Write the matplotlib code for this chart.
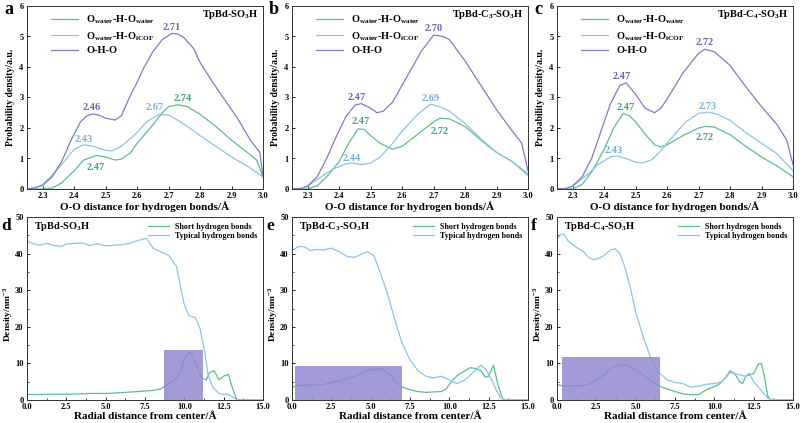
import numpy as np
import matplotlib
matplotlib.use("Agg")
import matplotlib.pyplot as plt
from matplotlib.ticker import AutoMinorLocator

plt.rcParams["font.family"] = ["Liberation Serif", "DejaVu Serif"]
plt.rcParams["font.weight"] = "bold"
plt.rcParams["mathtext.fontset"] = "custom"
plt.rcParams["mathtext.rm"] = "Liberation Serif:bold"
plt.rcParams["mathtext.bf"] = "Liberation Serif:bold"

verde = "#5dbf8c"
azul = "#8cc3ea"
roxo = "#8578c9"
verde_txt = "#3fa874"
azul_txt = "#6fb0e0"
roxo_txt = "#6f62b8"

# ---- painel a ----
a_x_oho = [2.25, 2.28, 2.30, 2.33, 2.36, 2.39, 2.42, 2.44, 2.46, 2.48, 2.50, 2.53, 2.55, 2.58, 2.60, 2.62, 2.65, 2.68, 2.71, 2.73, 2.75, 2.78, 2.80, 2.84, 2.88, 2.92, 2.96, 2.99, 3.00]
a_y_oho = [0.0, 0.05, 0.12, 0.40, 0.90, 1.60, 2.20, 2.40, 2.46, 2.42, 2.32, 2.26, 2.40, 3.10, 3.50, 3.95, 4.50, 4.90, 5.10, 5.08, 4.95, 4.60, 4.15, 3.50, 2.90, 2.30, 1.60, 1.20, 0.40]
a_x_ww = [2.25, 2.30, 2.33, 2.36, 2.40, 2.43, 2.47, 2.50, 2.53, 2.55, 2.58, 2.60, 2.65, 2.68, 2.70, 2.73, 2.76, 2.80, 2.85, 2.90, 2.95, 2.98, 3.00]
a_y_ww = [0.0, 0.0, 0.03, 0.20, 0.60, 0.95, 1.10, 1.05, 0.95, 0.98, 1.20, 1.50, 2.10, 2.50, 2.70, 2.76, 2.70, 2.45, 2.05, 1.60, 1.20, 0.95, 0.40]
a_x_wc = [2.25, 2.28, 2.30, 2.33, 2.36, 2.40, 2.43, 2.46, 2.50, 2.52, 2.55, 2.60, 2.63, 2.67, 2.70, 2.73, 2.76, 2.80, 2.85, 2.90, 2.95, 3.00]
a_y_wc = [0.0, 0.05, 0.15, 0.45, 0.80, 1.30, 1.45, 1.40, 1.27, 1.25, 1.40, 1.85, 2.20, 2.45, 2.42, 2.25, 2.05, 1.75, 1.40, 1.05, 0.75, 0.40]

# ---- painel b ----
b_x_oho = [2.25, 2.28, 2.30, 2.33, 2.36, 2.39, 2.42, 2.45, 2.47, 2.50, 2.52, 2.54, 2.57, 2.60, 2.63, 2.66, 2.70, 2.73, 2.75, 2.80, 2.85, 2.90, 2.95, 2.98, 3.00]
b_y_oho = [0.0, 0.02, 0.10, 0.40, 1.00, 1.70, 2.35, 2.75, 2.80, 2.65, 2.50, 2.55, 2.85, 3.40, 3.95, 4.50, 5.05, 5.00, 4.90, 4.20, 3.40, 2.60, 1.90, 1.50, 0.60]
b_x_ww = [2.25, 2.30, 2.33, 2.36, 2.40, 2.43, 2.46, 2.48, 2.50, 2.53, 2.57, 2.60, 2.65, 2.70, 2.72, 2.75, 2.80, 2.85, 2.90, 2.95, 3.00]
b_y_ww = [0.0, 0.0, 0.10, 0.40, 0.90, 1.50, 1.97, 1.95, 1.75, 1.50, 1.30, 1.40, 1.80, 2.20, 2.32, 2.30, 2.05, 1.60, 1.20, 0.90, 0.45]
b_x_wc = [2.25, 2.28, 2.30, 2.35, 2.38, 2.42, 2.44, 2.47, 2.50, 2.53, 2.57, 2.60, 2.65, 2.69, 2.72, 2.75, 2.80, 2.85, 2.90, 2.95, 3.00]
b_y_wc = [0.0, 0.02, 0.10, 0.45, 0.65, 0.82, 0.85, 0.80, 0.85, 1.05, 1.50, 1.90, 2.45, 2.78, 2.70, 2.55, 2.15, 1.65, 1.20, 0.90, 0.50]

# ---- painel c ----
c_x_oho = [2.25, 2.28, 2.30, 2.33, 2.36, 2.39, 2.42, 2.45, 2.47, 2.50, 2.53, 2.56, 2.58, 2.60, 2.65, 2.70, 2.72, 2.75, 2.80, 2.85, 2.90, 2.95, 2.98, 3.00]
c_y_oho = [0.0, 0.02, 0.10, 0.40, 1.00, 1.90, 2.80, 3.40, 3.48, 3.10, 2.65, 2.50, 2.65, 2.95, 3.80, 4.45, 4.58, 4.50, 4.05, 3.35, 2.70, 2.10, 1.60, 0.80]
c_x_ww = [2.25, 2.30, 2.33, 2.36, 2.40, 2.43, 2.46, 2.48, 2.50, 2.53, 2.56, 2.58, 2.60, 2.65, 2.70, 2.72, 2.75, 2.80, 2.85, 2.90, 2.95, 3.00]
c_y_ww = [0.0, 0.0, 0.15, 0.55, 1.30, 2.00, 2.47, 2.40, 2.20, 1.80, 1.45, 1.38, 1.45, 1.75, 2.00, 2.05, 2.03, 1.78, 1.40, 1.05, 0.75, 0.40]
c_x_wc = [2.25, 2.28, 2.30, 2.35, 2.38, 2.42, 2.44, 2.47, 2.50, 2.52, 2.55, 2.58, 2.62, 2.66, 2.70, 2.73, 2.76, 2.80, 2.85, 2.90, 2.95, 3.00]
c_y_wc = [0.0, 0.02, 0.10, 0.50, 0.80, 1.05, 1.08, 1.00, 0.88, 0.85, 0.95, 1.25, 1.75, 2.20, 2.48, 2.52, 2.45, 2.25, 1.85, 1.50, 1.15, 0.60]

# ---- paineis d, e, f ----
d_x_tip = [0.0, 0.3, 0.8, 1.3, 1.7, 2.2, 2.5, 3.0, 3.5, 4.0, 4.5, 5.0, 5.5, 6.0, 6.5, 7.0, 7.6, 8.0, 8.5, 9.0, 9.5, 9.8, 10.0, 10.3, 10.7, 11.0, 11.3, 11.5, 11.8, 12.2, 12.5, 12.8, 13.0, 13.3, 13.6, 15.0]
d_y_tip = [43.5, 42.8, 42.3, 42.8, 42.2, 42.0, 42.6, 42.8, 42.9, 42.2, 42.7, 42.1, 42.3, 42.4, 42.8, 43.5, 44.2, 41.5, 40.5, 39.5, 36.5, 30.0, 26.0, 23.0, 22.5, 19.5, 13.0, 7.0, 3.5, 1.8, 1.5, 1.6, 1.0, 0.2, 0.0, 0.0]
d_x_cur = [0.0, 1.0, 2.0, 3.0, 4.0, 5.0, 6.0, 7.0, 8.0, 8.5, 9.0, 9.5, 9.8, 10.1, 10.3, 10.5, 10.8, 11.1, 11.4, 11.6, 11.9, 12.2, 12.5, 12.8, 13.0, 13.3, 13.4, 15.0]
d_y_cur = [1.5, 1.5, 1.6, 1.6, 1.8, 1.8, 2.0, 2.3, 2.6, 3.0, 4.5, 6.0, 8.5, 12.0, 13.0, 12.5, 9.0, 6.0, 5.5, 7.5, 8.0, 5.5, 6.5, 7.0, 4.0, 0.5, 0.0, 0.0]
d_ret = (8.7, 11.2, 13.7)

e_x_tip = [0.0, 0.5, 0.8, 1.2, 1.5, 2.0, 2.5, 3.0, 3.5, 4.0, 4.5, 4.8, 5.2, 5.5, 6.0, 6.5, 7.0, 7.5, 8.0, 8.5, 9.0, 9.5, 10.0, 10.5, 11.0, 11.5, 12.0, 12.3, 12.7, 13.0, 13.3, 13.5, 15.0]
e_y_tip = [41.0, 42.0, 41.8, 40.8, 41.1, 41.0, 41.5, 40.5, 39.2, 39.0, 40.0, 40.5, 39.5, 36.0, 30.0, 22.5, 15.5, 11.0, 8.0, 6.5, 6.0, 6.5, 5.5, 4.5, 5.5, 7.5, 9.5, 8.5, 5.5, 2.5, 0.5, 0.0, 0.0]
e_x_cur = [0.0, 0.5, 1.0, 1.5, 2.0, 2.5, 3.0, 3.5, 4.0, 4.5, 5.0, 5.5, 5.8, 6.2, 6.6, 7.0, 7.5, 8.0, 8.5, 9.0, 9.5, 9.8, 10.2, 10.6, 11.0, 11.3, 11.7, 12.0, 12.3, 12.5, 12.8, 13.1, 13.4, 13.5, 15.0]
e_y_cur = [3.5, 4.0, 4.0, 4.2, 4.2, 4.8, 5.2, 5.8, 6.5, 7.5, 8.3, 8.5, 8.3, 7.0, 5.0, 3.5, 2.8, 2.3, 2.1, 2.2, 2.3, 3.0, 5.5, 7.0, 8.0, 8.8, 8.6, 8.0, 6.2, 6.5, 9.5, 4.0, 0.2, 0.0, 0.0]
e_ret = (0.2, 7.0, 9.2)

f_x_tip = [0.0, 0.2, 0.4, 0.7, 1.0, 1.3, 1.7, 2.0, 2.3, 2.7, 3.0, 3.4, 3.7, 4.0, 4.3, 4.7, 5.0, 5.5, 6.0, 6.5, 7.0, 7.5, 8.0, 8.5, 9.0, 9.5, 10.0, 10.5, 11.0, 11.5, 12.0, 12.2, 12.5, 13.0, 13.4, 13.6, 15.0]
f_y_tip = [44.0, 45.0, 45.4, 43.5, 42.5, 41.5, 40.5, 39.0, 38.3, 38.8, 39.5, 41.0, 41.3, 40.0, 36.5, 30.0, 24.0, 17.0, 11.0, 7.5, 5.5, 4.8, 4.5, 3.5, 3.8, 4.3, 4.5, 5.0, 7.5, 7.0, 6.5, 7.3, 5.0, 2.5, 0.5, 0.0, 0.0]
f_x_cur = [0.0, 0.4, 1.0, 1.5, 2.0, 2.5, 3.0, 3.5, 4.0, 4.3, 4.7, 5.0, 5.5, 6.0, 6.5, 7.0, 7.5, 8.0, 8.5, 9.0, 9.5, 10.0, 10.3, 10.7, 11.0, 11.3, 11.6, 11.8, 12.0, 12.3, 12.5, 12.8, 13.0, 13.2, 13.4, 13.6, 15.0]
f_y_cur = [4.2, 3.8, 3.9, 3.9, 4.2, 5.5, 7.0, 8.8, 9.7, 9.7, 9.0, 8.3, 6.8, 5.0, 3.8, 3.0, 2.3, 1.7, 1.4, 1.5, 2.8, 3.7, 4.3, 6.0, 8.0, 7.2, 5.0, 4.5, 6.5, 7.0, 7.2, 9.8, 10.0, 6.0, 1.0, 0.0, 0.0]
f_ret = (0.3, 6.55, 11.7)

# rotulos dos picos: (x, y, texto, cor)
a_picos = [(2.71, 5.3, "2.71", roxo_txt), (2.455, 2.68, "2.46", roxo_txt), (2.43, 1.62, "2.43", azul_txt),
           (2.655, 2.68, "2.67", azul_txt), (2.745, 2.98, "2.74", verde_txt), (2.47, 0.72, "2.47", verde_txt)]
b_picos = [(2.70, 5.27, "2.70", roxo_txt), (2.455, 3.0, "2.47", roxo_txt), (2.47, 2.2, "2.47", verde_txt),
           (2.44, 1.0, "2.44", azul_txt), (2.69, 2.98, "2.69", azul_txt), (2.72, 1.9, "2.72", verde_txt)]
c_picos = [(2.72, 4.8, "2.72", roxo_txt), (2.455, 3.68, "2.47", roxo_txt), (2.47, 2.68, "2.47", verde_txt),
           (2.43, 1.27, "2.43", azul_txt), (2.73, 2.72, "2.73", azul_txt), (2.72, 1.68, "2.72", verde_txt)]

W, H = 800, 423
fig = plt.figure(figsize=(W / 100, H / 100), dpi=100)


def caixa(x0, y0, x1, y1):
    return fig.add_axes([x0 / W, 1 - y1 / H, (x1 - x0) / W, (y1 - y0) / H])


def estilo(ax):
    ax.tick_params(direction="in", labelsize=6, length=2.5, width=0.6)
    ax.tick_params(axis="x", pad=2.5)
    ax.tick_params(axis="y", pad=2.5)
    ax.tick_params(which="minor", direction="in", length=1.5, width=0.5)
    for s in ax.spines.values():
        s.set_linewidth(0.7)
        s.set_color("#333333")
    for t in ax.get_xticklabels() + ax.get_yticklabels():
        t.set_fontweight("bold")


topo = [
    (27, "a", "TpBd-SO$_3$H", (a_x_ww, a_y_ww), (a_x_wc, a_y_wc), (a_x_oho, a_y_oho), a_picos),
    (292, "b", "TpBd-C$_3$-SO$_3$H", (b_x_ww, b_y_ww), (b_x_wc, b_y_wc), (b_x_oho, b_y_oho), b_picos),
    (557, "c", "TpBd-C$_4$-SO$_3$H", (c_x_ww, c_y_ww), (c_x_wc, c_y_wc), (c_x_oho, c_y_oho), c_picos),
]

for x0, letra, nome, ww, wc, oho, picos in topo:
    ax = caixa(x0, 6, x0 + 236, 189)
    ax.plot(*ww, color=verde, lw=0.9, label=r"O$_{\mathrm{water}}$-H-O$_{\mathrm{water}}$")
    ax.plot(*wc, color=azul, lw=0.9, label=r"O$_{\mathrm{water}}$-H-O$_{\mathrm{iCOF}}$")
    ax.plot(*oho, color=roxo, lw=0.9, label="O-H-O")
    for px, py, txt, cor in picos:
        ax.text(px, py, txt, color=cor, fontsize=7.5, fontweight="bold", ha="center", va="center")
    ax.set_xlim(2.25, 3.0)
    ax.set_ylim(0, 6)
    ax.set_xticks([2.3, 2.4, 2.5, 2.6, 2.7, 2.8, 2.9, 3.0])
    ax.set_yticks(range(7))
    ax.set_xlabel("O-O distance for hydrogen bonds/Å", fontsize=8, fontweight="bold", labelpad=0.5)
    ax.set_ylabel("Probability density/a.u.", fontsize=7, fontweight="bold")
    ax.yaxis.set_label_coords(-0.05, 0.5)
    ax.legend(loc="upper left", frameon=False, handlelength=2.6, borderaxespad=0.3,
              labelspacing=0.35, bbox_to_anchor=(0.07, 1.0), prop={"weight": "bold", "size": 7.5})
    ax.text(0.98, 0.955, nome, transform=ax.transAxes, ha="right", va="center", fontsize=7.5, fontweight="bold")
    estilo(ax)
    fig.text((x0 - 23) / W, 1 - 10 / H, letra, fontsize=13, fontweight="bold", va="center")

baixo = [
    (27, "d", "TpBd-SO$_3$H", (d_x_cur, d_y_cur), (d_x_tip, d_y_tip), d_ret),
    (292, "e", "TpBd-C$_3$-SO$_3$H", (e_x_cur, e_y_cur), (e_x_tip, e_y_tip), e_ret),
    (557, "f", "TpBd-C$_4$-SO$_3$H", (f_x_cur, f_y_cur), (f_x_tip, f_y_tip), f_ret),
]

for x0, letra, nome, cur, tip, ret in baixo:
    ax = caixa(x0, 217, x0 + 236, 400)
    ax.axvspan(ret[0], ret[1], ymin=0, ymax=ret[2] / 50, color="#9388d2", alpha=0.85, lw=0, zorder=3)
    ax.plot(*cur, color=verde, lw=0.9, label="Short hydrogen bonds", zorder=2)
    ax.plot(*tip, color=azul, lw=0.9, label="Typical hydrogen bonds", zorder=2)
    ax.set_xlim(0, 15)
    ax.set_ylim(0, 50)
    ax.set_xticks(np.arange(0, 15.1, 2.5))
    ax.set_xticklabels([f"{v:.1f}" for v in np.arange(0, 15.1, 2.5)])
    ax.set_yticks(range(0, 51, 10))
    ax.xaxis.set_minor_locator(AutoMinorLocator(2))
    ax.yaxis.set_minor_locator(AutoMinorLocator(2))
    ax.set_xlabel("Radial distance from center/Å", fontsize=8, fontweight="bold", labelpad=0.5)
    ax.set_ylabel("Density/nm$^{-3}$", fontsize=6.8, fontweight="bold")
    ax.yaxis.set_label_coords(-0.05, 0.47)
    ax.legend(loc="upper right", frameon=False, handlelength=2.6, borderaxespad=0.3,
              labelspacing=0.2, prop={"weight": "bold", "size": 5.8})
    ax.text(0.03, 0.95, nome, transform=ax.transAxes, ha="left", va="center", fontsize=7.5, fontweight="bold")
    estilo(ax)
    fig.text((x0 - 26) / W, 1 - 226 / H, letra, fontsize=12.5, fontweight="bold", va="center")

fig.savefig("out.png", dpi=100)
